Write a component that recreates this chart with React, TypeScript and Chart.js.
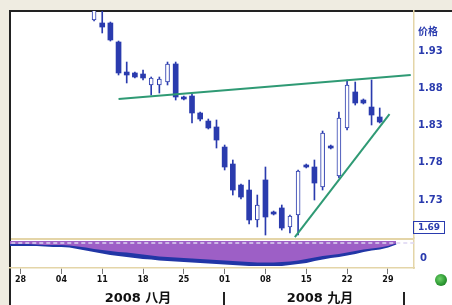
import React, { useEffect, useRef } from "react";
import { Chart, registerables } from "chart.js";

Chart.register(...registerables);

// trading-day index (0 = 2008-08-04)
const CANDLE_DAYS = [4, 5, 6, 7, 8, 9, 10, 11, 12, 13, 14, 15, 16, 17, 18, 19, 20, 21, 22, 23, 24, 25, 26, 27, 28, 29, 30, 31, 32, 33, 34, 35, 36, 37, 38, 39];
const OPEN = [1.9716, 1.9676, 1.9676, 1.9421, 1.9018, 1.9005, 1.8991, 1.8844, 1.8844, 1.8884, 1.9126, 1.8683, 1.8696, 1.8468, 1.836, 1.828, 1.8011, 1.7783, 1.7501, 1.7434, 1.7032, 1.7569, 1.7139, 1.7193, 1.6938, 1.7099, 1.777, 1.7743, 1.7475, 1.8025, 1.7622, 1.8267, 1.875, 1.8642, 1.8548, 1.8414];
const HIGH = [1.9958, 1.985, 1.9689, 1.9434, 1.9152, 1.9018, 1.9045, 1.8951, 1.8951, 1.9152, 1.9152, 1.8696, 1.8723, 1.8481, 1.8387, 1.8374, 1.8038, 1.7837, 1.7515, 1.7569, 1.7367, 1.7743, 1.7152, 1.7233, 1.7099, 1.7703, 1.7783, 1.7837, 1.8226, 1.8038, 1.8481, 1.8911, 1.8884, 1.8656, 1.8911, 1.8535];
const LOW = [1.9703, 1.9542, 1.9434, 1.8978, 1.8871, 1.8938, 1.8911, 1.8709, 1.8736, 1.8844, 1.8642, 1.8642, 1.8334, 1.836, 1.8253, 1.7998, 1.7703, 1.7367, 1.7313, 1.6978, 1.6938, 1.683, 1.7099, 1.6897, 1.6857, 1.683, 1.773, 1.73, 1.7434, 1.7985, 1.7595, 1.824, 1.8575, 1.8589, 1.8307, 1.8334];
const CLOSE = [1.9904, 1.9622, 1.9448, 1.9005, 1.8978, 1.8951, 1.8938, 1.8938, 1.8924, 1.9126, 1.8683, 1.8656, 1.8468, 1.8387, 1.8267, 1.8105, 1.7743, 1.7434, 1.734, 1.7032, 1.7233, 1.7072, 1.7112, 1.6924, 1.7085, 1.7689, 1.7743, 1.7528, 1.8199, 1.7998, 1.8401, 1.8844, 1.8602, 1.8602, 1.8441, 1.8347];

const X_TICK_DAYS = [-5, 0, 5, 10, 15, 20, 25, 30, 35, 40];
const X_TICK_LABELS = ["28", "04", "11", "18", "25", "01", "08", "15", "22", "29"];
const PRICE_TICKS = [1.93, 1.88, 1.83, 1.78, 1.73];

// trend lines
const RESIST_DAYS = [7.0, 42.8];
const RESIST_PRICES = [1.8656, 1.8978];
const SUPPORT_DAYS = [28.6, 40.2];
const SUPPORT_PRICES = [1.6803, 1.8454];

// lower oscillator panel
const OSC_DAYS = [-7, -6, -5, -4, -3, -2, -1, 0, 1, 2, 3, 4, 5, 6, 7, 8, 9, 10, 11, 12, 13, 14, 15, 16, 17, 18, 19, 20, 21, 22, 23, 24, 25, 26, 27, 28, 29, 30, 31, 32, 33, 34, 35, 36, 37, 38, 39, 40, 41];
const OSC_SIGNAL = [-0.003, -0.003, -0.003, -0.003, -0.0035, -0.004, -0.004, -0.004, -0.0045, -0.0055, -0.0065, -0.008, -0.009, -0.01, -0.011, -0.0115, -0.0125, -0.0135, -0.0145, -0.0155, -0.016, -0.0165, -0.017, -0.0175, -0.018, -0.0185, -0.019, -0.0195, -0.02, -0.0205, -0.021, -0.0215, -0.0215, -0.0215, -0.021, -0.0205, -0.0195, -0.018, -0.0165, -0.015, -0.014, -0.013, -0.0115, -0.01, -0.0085, -0.0075, -0.0065, -0.005, -0.0025];
const OSC_MAIN = [-0.004, -0.004, -0.004, -0.004, -0.004, -0.0045, -0.005, -0.005, -0.0055, -0.007, -0.0085, -0.01, -0.0115, -0.013, -0.014, -0.015, -0.016, -0.017, -0.0175, -0.0185, -0.019, -0.0195, -0.02, -0.0205, -0.021, -0.0215, -0.022, -0.0225, -0.023, -0.0235, -0.024, -0.024, -0.024, -0.024, -0.024, -0.023, -0.022, -0.021, -0.019, -0.0175, -0.016, -0.015, -0.0135, -0.012, -0.01, -0.0085, -0.0075, -0.0055, -0.0025];
const OSC_BASE_DAYS = [-7, 44];
const OSC_BASE = [-0.002, -0.002];

const MONTH_LABELS = ["2008 八月", "2008 九月"];
const AXIS_TITLE = "价格";
const LAST_BOX = "1.69";
const OSC_LABEL = "0";

const BLUE = "#2a3bae";
const GREEN = "#2f9a74";
const TAN = "#e4d5a8";
const PURPLE = "#9d5fc6";
const FONT = '"DejaVu Sans", "Noto Sans CJK SC", sans-serif';

const UP_IDX = CANDLE_DAYS.map((_, k) => k).filter((k) => CLOSE[k] >= OPEN[k]);
const DOWN_IDX = CANDLE_DAYS.map((_, k) => k).filter((k) => CLOSE[k] < OPEN[k]);

export default function App() {
  const ref = useRef<HTMLCanvasElement>(null);

  useEffect(() => {
    const canvas = ref.current;
    if (!canvas) return;
    const chart = new Chart(canvas, {
      type: "bar",
      data: {
        datasets: [
          {
            type: "line",
            data: RESIST_DAYS.map((x, k) => ({ x, y: RESIST_PRICES[k] })),
            borderColor: GREEN,
            borderWidth: 2,
            pointRadius: 0,
            yAxisID: "y",
            order: 0,
          },
          {
            type: "line",
            data: SUPPORT_DAYS.map((x, k) => ({ x, y: SUPPORT_PRICES[k] })),
            borderColor: GREEN,
            borderWidth: 2,
            pointRadius: 0,
            yAxisID: "y",
            order: 0,
          },
          {
            type: "bar",
            data: DOWN_IDX.map((k) => ({ x: CANDLE_DAYS[k], y: [OPEN[k], CLOSE[k]] })),
            backgroundColor: BLUE,
            borderColor: BLUE,
            borderWidth: 0,
            barThickness: 5,
            grouped: false,
            yAxisID: "y",
            order: 1,
          },
          {
            type: "bar",
            data: UP_IDX.map((k) => ({ x: CANDLE_DAYS[k], y: [OPEN[k], CLOSE[k]] })),
            backgroundColor: "#ffffff",
            borderColor: BLUE,
            borderWidth: 1,
            borderSkipped: false,
            barThickness: 4,
            grouped: false,
            yAxisID: "y",
            order: 1,
          },
          {
            type: "bar",
            data: CANDLE_DAYS.map((x, k) => ({ x, y: [LOW[k], HIGH[k]] })),
            backgroundColor: BLUE,
            borderWidth: 0,
            barThickness: 1,
            grouped: false,
            yAxisID: "y",
            order: 2,
          },
          {
            type: "line",
            data: OSC_BASE_DAYS.map((x, k) => ({ x, y: OSC_BASE[k] })),
            borderColor: "#ddd5f2",
            borderWidth: 1.5,
            borderDash: [4, 3],
            pointRadius: 0,
            yAxisID: "y2",
            order: 3,
          },
          {
            type: "line",
            data: OSC_DAYS.map((x, k) => ({ x, y: OSC_SIGNAL[k] })),
            borderColor: PURPLE,
            backgroundColor: PURPLE,
            borderWidth: 0,
            fill: "origin",
            pointRadius: 0,
            tension: 0,
            yAxisID: "y2",
            order: 4,
          },
          {
            type: "line",
            data: OSC_DAYS.map((x, k) => ({ x, y: OSC_MAIN[k] })),
            borderColor: "#2236a6",
            backgroundColor: "#2236a6",
            borderWidth: 2,
            fill: "origin",
            pointRadius: 0,
            tension: 0,
            yAxisID: "y2",
            order: 5,
          },
        ],
      },
      options: {
        animation: false,
        responsive: false,
        maintainAspectRatio: false,
        events: [],
        layout: { padding: { left: 10, top: 11, right: 0, bottom: 0 } },
        plugins: { legend: { display: false }, tooltip: { enabled: false } },
        scales: {
          x: {
            type: "linear",
            offset: false,
            min: -6.3,
            max: 43.2,
            position: "bottom",
            afterFit: (s: any) => {
              s.height = 37;
            },
            afterBuildTicks: (s: any) => {
              s.ticks = X_TICK_DAYS.map((v) => ({ value: v }));
            },
            ticks: {
              autoSkip: false,
              maxRotation: 0,
              padding: 1,
              color: "#111",
              font: { family: FONT, size: 8, weight: "bold" },
              callback: (_v: any, i: number) => X_TICK_LABELS[i],
            },
            grid: {
              offset: false,
              drawOnChartArea: false,
              drawTicks: true,
              tickLength: 6,
              tickColor: "#777",
            },
            border: { color: TAN, width: 1.5 },
          },
          y: {
            type: "linear",
            position: "right",
            stack: "panels",
            stackWeight: 227,
            min: 1.679,
            max: 1.9837,
            afterFit: (s: any) => {
              s.width = 38;
            },
            afterBuildTicks: (s: any) => {
              s.ticks = PRICE_TICKS.map((v) => ({ value: v }));
            },
            ticks: {
              padding: 4,
              color: BLUE,
              font: { family: FONT, size: 10, weight: "bold" },
              callback: (v: any) => Number(v).toFixed(2),
            },
            grid: { display: false, drawTicks: false },
            border: { color: TAN, width: 1.5 },
          },
          y2: {
            type: "linear",
            position: "right",
            stack: "panels",
            stackWeight: 30,
            min: -0.027,
            max: 0.003,
            afterFit: (s: any) => {
              s.width = 38;
            },
            ticks: { display: false },
            grid: { display: false, drawTicks: false },
            border: { color: TAN, width: 1.5 },
          },
        },
      },
    } as any);
    return () => chart.destroy();
  }, []);

  const text = (extra: React.CSSProperties): React.CSSProperties => ({
    position: "absolute",
    fontFamily: FONT,
    fontWeight: "bold",
    whiteSpace: "nowrap",
    lineHeight: 1,
    ...extra,
  });

  return (
    <div
      style={{
        position: "fixed",
        left: 0,
        top: 0,
        width: 452,
        height: 305,
        background: "#efece1",
        overflow: "hidden",
      }}
    >
      <div
        style={{
          position: "absolute",
          left: 9,
          top: 10,
          right: 0,
          bottom: 0,
          background: "#ffffff",
          borderTop: "2px solid #222",
          borderLeft: "2px solid #222",
        }}
      />
      <div style={{ position: "absolute", left: 11, top: 238, width: 403, height: 1.5, background: TAN }} />
      <canvas
        ref={ref}
        width={452}
        height={305}
        style={{ position: "absolute", left: 0, top: 0, width: 452, height: 305 }}
      />
      <div style={text({ left: 418, top: 27, fontSize: 10, color: BLUE })}>{AXIS_TITLE}</div>
      <div
        style={text({
          left: 413,
          top: 221,
          width: 30,
          height: 11,
          fontSize: 9,
          color: BLUE,
          border: `1.5px solid ${BLUE}`,
          textAlign: "center",
          lineHeight: "11px",
        })}
      >
        {LAST_BOX}
      </div>
      <div style={text({ left: 420, top: 253, fontSize: 10, color: BLUE })}>{OSC_LABEL}</div>
      <div style={text({ left: 88, width: 100, top: 291, fontSize: 13, color: "#111", textAlign: "center" })}>
        {MONTH_LABELS[0]}
      </div>
      <div style={text({ left: 270, width: 100, top: 291, fontSize: 13, color: "#111", textAlign: "center" })}>
        {MONTH_LABELS[1]}
      </div>
      <div style={{ position: "absolute", left: 223, top: 292, width: 1.5, height: 13, background: "#222" }} />
      <div style={{ position: "absolute", left: 403, top: 292, width: 1.5, height: 13, background: "#222" }} />
      <div
        style={{
          position: "absolute",
          left: 435,
          top: 274,
          width: 12,
          height: 12,
          borderRadius: "50%",
          background: "radial-gradient(circle at 40% 40%, #6fd26a 0%, #2e9a34 55%, #1a6a20 100%)",
        }}
      />
    </div>
  );
}
